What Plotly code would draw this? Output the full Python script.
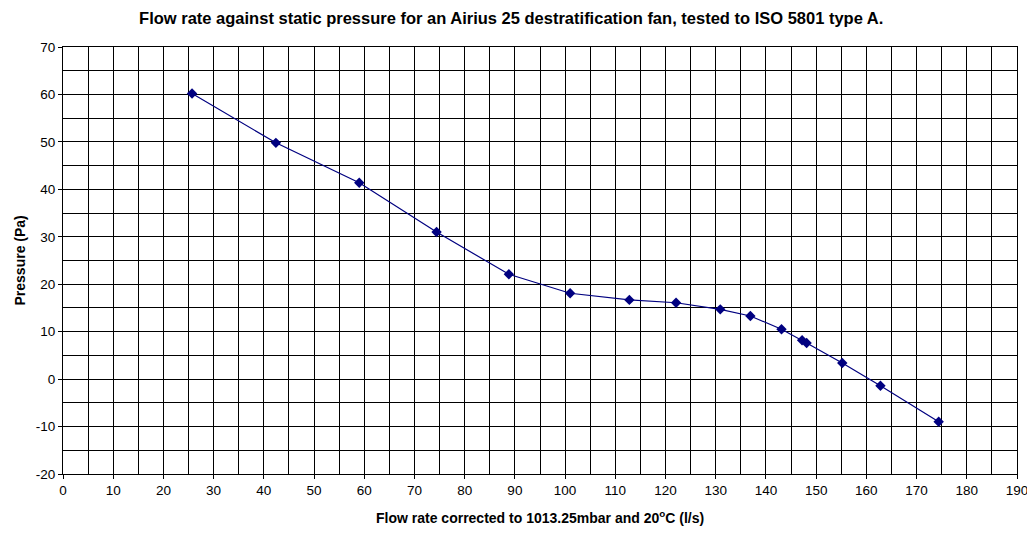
import plotly.graph_objects as go

flow = [25.7, 42.4, 59.0, 74.4, 88.8, 101.0, 112.8, 122.1, 130.9, 136.9, 143.1, 147.2, 148.1, 155.2, 162.8, 174.4]
pressure = [60.2, 49.8, 41.4, 31.0, 22.1, 18.1, 16.7, 16.1, 14.7, 13.3, 10.5, 8.2, 7.6, 3.4, -1.4, -9.0]

y_tick_values = [-20, -10, 0, 10, 20, 30, 40, 50, 60, 70]
y_tick_labels = ["-20", "-10", "0", "10", "20", "30", "40", "50", "60", "70"]

title_text = "Flow rate against static pressure for an Airius 25 destratification fan, tested to ISO 5801 type A."
x_title = "Flow rate corrected to 1013.25mbar and 20<sup>o</sup>C (l/s)"
y_title = "Pressure (Pa)"

fig = go.Figure()
fig.add_trace(go.Scatter(
    x=flow, y=pressure, mode="lines+markers",
    line=dict(color="#000080", width=1.2),
    marker=dict(symbol="diamond", size=8, color="#000080"),
    showlegend=False,
))

font = "Liberation Sans, Arial, sans-serif"
fig.update_layout(
    width=1027, height=525,
    margin=dict(l=55, r=18, t=39, b=59, autoexpand=False),
    paper_bgcolor="white", plot_bgcolor="white",
    font=dict(family=font, size=13.5, color="black"),
    title=dict(text="<b>" + title_text + "</b>",
               x=0.49, xanchor="center", xref="container", y=1 - 10 / 525, yanchor="middle", yref="container",
               font=dict(size=16.5)),
)
fig.add_annotation(text="<b>" + x_title + "</b>", xref="paper", yref="paper", x=0.5, y=0,
                   xanchor="center", yanchor="middle", yshift=-43, showarrow=False, font=dict(size=14))
fig.add_annotation(text="<b>" + y_title + "</b>", xref="paper", yref="paper", x=0, y=0.5,
                   xanchor="center", yanchor="middle", xshift=-44, textangle=-90, showarrow=False,
                   font=dict(size=14))
fig.update_xaxes(
    range=[0, 190], dtick=10, tick0=0,
    showgrid=True, gridcolor="black", gridwidth=1,
    minor=dict(dtick=5, showgrid=True, gridcolor="black", gridwidth=1),
    showline=True, linecolor="black", linewidth=1, mirror=True,
    ticks="outside", ticklen=4, tickcolor="black",
    zeroline=False, automargin=False,
)
fig.update_yaxes(
    range=[-20, 70], tickmode="array", tickvals=y_tick_values, ticktext=y_tick_labels,
    showgrid=True, gridcolor="black", gridwidth=1,
    minor=dict(dtick=5, tick0=0, showgrid=True, gridcolor="black", gridwidth=1),
    showline=True, linecolor="black", linewidth=1, mirror=True,
    ticks="outside", ticklen=4, tickcolor="black",
    zeroline=False, automargin=False,
)

fig.write_html("out.html")
